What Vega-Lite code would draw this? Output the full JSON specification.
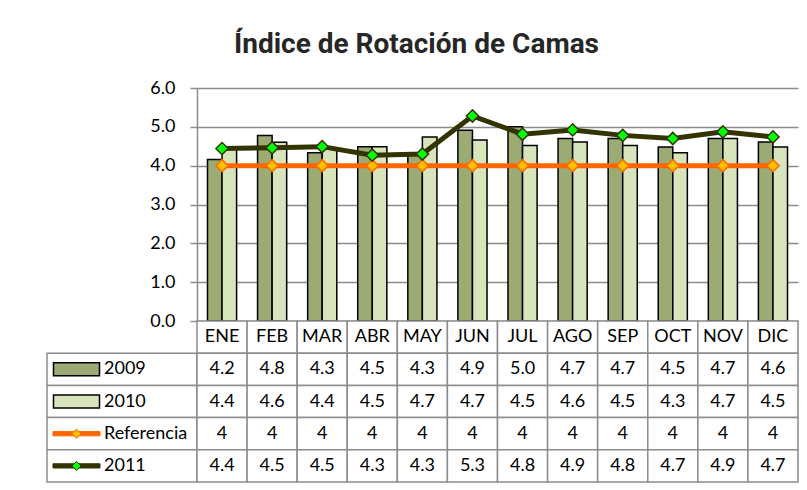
{
  "$schema": "https://vega.github.io/schema/vega-lite/v6.json",
  "background": "white",
  "padding": {"left": 46, "top": 31, "right": 10, "bottom": 9},
  "title": {"text": "Índice de Rotación de Camas", "font": "Roboto", "fontSize": 28, "fontWeight": "bold", "color": "#262626", "anchor": "middle", "dx": -6, "offset": 20},
  "datasets": {
    "valores": [
      {"mes": "ENE", "serie": "2009", "valor": 4.16},
      {"mes": "FEB", "serie": "2009", "valor": 4.78},
      {"mes": "MAR", "serie": "2009", "valor": 4.33},
      {"mes": "ABR", "serie": "2009", "valor": 4.49},
      {"mes": "MAY", "serie": "2009", "valor": 4.3},
      {"mes": "JUN", "serie": "2009", "valor": 4.91},
      {"mes": "JUL", "serie": "2009", "valor": 5.0},
      {"mes": "AGO", "serie": "2009", "valor": 4.7},
      {"mes": "SEP", "serie": "2009", "valor": 4.7},
      {"mes": "OCT", "serie": "2009", "valor": 4.48},
      {"mes": "NOV", "serie": "2009", "valor": 4.7},
      {"mes": "DIC", "serie": "2009", "valor": 4.61},
      {"mes": "ENE", "serie": "2010", "valor": 4.42},
      {"mes": "FEB", "serie": "2010", "valor": 4.6},
      {"mes": "MAR", "serie": "2010", "valor": 4.42},
      {"mes": "ABR", "serie": "2010", "valor": 4.49},
      {"mes": "MAY", "serie": "2010", "valor": 4.74},
      {"mes": "JUN", "serie": "2010", "valor": 4.66},
      {"mes": "JUL", "serie": "2010", "valor": 4.52},
      {"mes": "AGO", "serie": "2010", "valor": 4.61},
      {"mes": "SEP", "serie": "2010", "valor": 4.52},
      {"mes": "OCT", "serie": "2010", "valor": 4.33},
      {"mes": "NOV", "serie": "2010", "valor": 4.7},
      {"mes": "DIC", "serie": "2010", "valor": 4.48},
      {"mes": "ENE", "serie": "Referencia", "valor": 4},
      {"mes": "FEB", "serie": "Referencia", "valor": 4},
      {"mes": "MAR", "serie": "Referencia", "valor": 4},
      {"mes": "ABR", "serie": "Referencia", "valor": 4},
      {"mes": "MAY", "serie": "Referencia", "valor": 4},
      {"mes": "JUN", "serie": "Referencia", "valor": 4},
      {"mes": "JUL", "serie": "Referencia", "valor": 4},
      {"mes": "AGO", "serie": "Referencia", "valor": 4},
      {"mes": "SEP", "serie": "Referencia", "valor": 4},
      {"mes": "OCT", "serie": "Referencia", "valor": 4},
      {"mes": "NOV", "serie": "Referencia", "valor": 4},
      {"mes": "DIC", "serie": "Referencia", "valor": 4},
      {"mes": "ENE", "serie": "2011", "valor": 4.44},
      {"mes": "FEB", "serie": "2011", "valor": 4.46},
      {"mes": "MAR", "serie": "2011", "valor": 4.49},
      {"mes": "ABR", "serie": "2011", "valor": 4.27},
      {"mes": "MAY", "serie": "2011", "valor": 4.3},
      {"mes": "JUN", "serie": "2011", "valor": 5.28},
      {"mes": "JUL", "serie": "2011", "valor": 4.81},
      {"mes": "AGO", "serie": "2011", "valor": 4.92},
      {"mes": "SEP", "serie": "2011", "valor": 4.78},
      {"mes": "OCT", "serie": "2011", "valor": 4.7},
      {"mes": "NOV", "serie": "2011", "valor": 4.87},
      {"mes": "DIC", "serie": "2011", "valor": 4.74}
    ]
  },
  "columns": 2,
  "spacing": 0,
  "bounds": "flush",
  "concat": [
    {
      "width": 150,
      "height": 233,
      "data": {"values": [{}]},
      "mark": {"type": "text", "text": ""},
      "encoding": {}
    },
    {
      "width": 601,
      "height": 233,
      "data": {"name": "valores"},
      "layer": [
        {
          "transform": [{"filter": "datum.serie == '2009' || datum.serie == '2010'"}],
          "mark": {"type": "bar", "stroke": "#000000", "strokeWidth": 1.5},
          "encoding": {
            "x": {"field": "mes", "type": "nominal", "scale": {"domain": ["ENE","FEB","MAR","ABR","MAY","JUN","JUL","AGO","SEP","OCT","NOV","DIC"], "paddingInner": 0, "paddingOuter": 0}, "axis": null},
            "xOffset": {"field": "serie", "type": "nominal", "scale": {"domain": ["2009","2010"], "paddingInner": 0, "paddingOuter": 0.72}},
            "y": {"field": "valor", "type": "quantitative", "scale": {"domain": [0, 6], "nice": false},
              "axis": {"values": [0,1,2,3,4,5,6], "tickCount": 7, "format": ".1f", "title": null, "grid": true, "gridColor": "#8c8c8c", "gridWidth": 1.5, "domainColor": "#8c8c8c", "domainWidth": 1.5, "tickColor": "#8c8c8c", "tickWidth": 1.5, "tickSize": 7, "labelPadding": 15, "labelOverlap": false, "labelFont": "Lato", "labelFontSize": 18, "labelColor": "#000000"}},
            "fill": {"field": "serie", "type": "nominal", "scale": {"domain": ["2009","2010"], "range": ["#9BAB73","#D8E4BC"]}, "legend": null}
          }
        },
        {
          "transform": [{"filter": "datum.serie == 'Referencia'"}],
          "mark": {"type": "line", "color": "#FF6600", "strokeWidth": 5},
          "encoding": {
            "x": {"field": "mes", "type": "nominal"},
            "y": {"field": "valor", "type": "quantitative"}
          }
        },
        {
          "transform": [{"filter": "datum.serie == 'Referencia'"}],
          "mark": {"type": "point", "shape": "diamond", "size": 150, "filled": true, "fill": "#FFC000", "stroke": "#FF6600", "strokeWidth": 1.5, "opacity": 1},
          "encoding": {
            "x": {"field": "mes", "type": "nominal"},
            "y": {"field": "valor", "type": "quantitative"}
          }
        },
        {
          "transform": [{"filter": "datum.serie == '2011'"}],
          "mark": {"type": "line", "color": "#333300", "strokeWidth": 5},
          "encoding": {
            "x": {"field": "mes", "type": "nominal"},
            "y": {"field": "valor", "type": "quantitative"}
          }
        },
        {
          "transform": [{"filter": "datum.serie == '2011'"}],
          "mark": {"type": "point", "shape": "diamond", "size": 150, "filled": true, "fill": "#00FF00", "stroke": "#333300", "strokeWidth": 1.5, "opacity": 1},
          "encoding": {
            "x": {"field": "mes", "type": "nominal"},
            "y": {"field": "valor", "type": "quantitative"}
          }
        }
      ]
    },
    {
      "width": 150,
      "height": 161,
      "data": {"name": "valores"},
      "transform": [{"filter": "datum.mes == 'ENE'"}],
      "layer": [
        {
          "mark": {"type": "rect", "fill": "white", "stroke": "#8c8c8c", "strokeWidth": 1.5},
          "encoding": {
            "y": {"field": "serie", "type": "nominal", "scale": {"domain": ["hdr","2009","2010","Referencia","2011"], "paddingInner": 0, "paddingOuter": 0}, "axis": null}
          }
        },
        {
          "transform": [{"filter": "datum.serie == '2009'"}],
          "mark": {"type": "point", "shape": "M-1,-0.283H1V0.283H-1Z", "size": 2116, "filled": true, "fill": "#9BAB73", "stroke": "#000000", "strokeWidth": 1.5, "opacity": 1},
          "encoding": {
            "x": {"datum": "simbolo", "type": "nominal", "scale": {"type": "band", "domain": ["simbolo","etiqueta"], "paddingInner": 0, "paddingOuter": 0.3636, "align": 0.05}, "axis": null},
            "y": {"field": "serie", "type": "nominal"}
          }
        },
        {
          "transform": [{"filter": "datum.serie == '2010'"}],
          "mark": {"type": "point", "shape": "M-1,-0.283H1V0.283H-1Z", "size": 2116, "filled": true, "fill": "#D8E4BC", "stroke": "#000000", "strokeWidth": 1.5, "opacity": 1},
          "encoding": {
            "x": {"datum": "simbolo", "type": "nominal", "scale": {"type": "band", "domain": ["simbolo","etiqueta"], "paddingInner": 0, "paddingOuter": 0.3636, "align": 0.05}},
            "y": {"field": "serie", "type": "nominal"}
          }
        },
        {
          "transform": [{"filter": "datum.serie == 'Referencia'"}],
          "mark": {"type": "point", "shape": "M-1,-0.09H1V0.09H-1Z", "size": 2209, "filled": true, "fill": "#FF6600", "stroke": "#FF6600", "strokeWidth": 1, "strokeJoin": "round", "opacity": 1},
          "encoding": {
            "x": {"datum": "simbolo", "type": "nominal", "scale": {"type": "band", "domain": ["simbolo","etiqueta"], "paddingInner": 0, "paddingOuter": 0.3636, "align": 0.05}},
            "y": {"field": "serie", "type": "nominal"}
          }
        },
        {
          "transform": [{"filter": "datum.serie == 'Referencia'"}],
          "mark": {"type": "point", "shape": "diamond", "size": 85, "filled": true, "fill": "#FFC000", "stroke": "#FF6600", "strokeWidth": 1, "opacity": 1},
          "encoding": {
            "x": {"datum": "simbolo", "type": "nominal", "scale": {"type": "band", "domain": ["simbolo","etiqueta"], "paddingInner": 0, "paddingOuter": 0.3636, "align": 0.05}},
            "y": {"field": "serie", "type": "nominal"}
          }
        },
        {
          "transform": [{"filter": "datum.serie == '2011'"}],
          "mark": {"type": "point", "shape": "M-1,-0.09H1V0.09H-1Z", "size": 2209, "filled": true, "fill": "#333300", "stroke": "#333300", "strokeWidth": 1, "strokeJoin": "round", "opacity": 1},
          "encoding": {
            "x": {"datum": "simbolo", "type": "nominal", "scale": {"type": "band", "domain": ["simbolo","etiqueta"], "paddingInner": 0, "paddingOuter": 0.3636, "align": 0.05}},
            "y": {"field": "serie", "type": "nominal"}
          }
        },
        {
          "transform": [{"filter": "datum.serie == '2011'"}],
          "mark": {"type": "point", "shape": "diamond", "size": 85, "filled": true, "fill": "#00FF00", "stroke": "#333300", "strokeWidth": 1, "opacity": 1},
          "encoding": {
            "x": {"datum": "simbolo", "type": "nominal", "scale": {"type": "band", "domain": ["simbolo","etiqueta"], "paddingInner": 0, "paddingOuter": 0.3636, "align": 0.05}},
            "y": {"field": "serie", "type": "nominal"}
          }
        },
        {
          "mark": {"type": "text", "align": "left", "font": "Lato", "fontSize": 18, "color": "#000000"},
          "encoding": {
            "x": {"datum": "etiqueta", "type": "nominal", "bandPosition": 0, "scale": {"type": "band", "domain": ["simbolo","etiqueta"], "paddingInner": 0, "paddingOuter": 0.3636, "align": 0.05}},
            "y": {"field": "serie", "type": "nominal"},
            "text": {"field": "serie"}
          }
        }
      ]
    },
    {
      "width": 601,
      "height": 161,
      "data": {"name": "valores"},
      "layer": [
        {
          "transform": [{"filter": "datum.serie == '2009'"}],
          "mark": {"type": "rect", "fill": "white", "stroke": "#8c8c8c", "strokeWidth": 1.5},
          "encoding": {
            "x": {"field": "mes", "type": "nominal", "scale": {"domain": ["ENE","FEB","MAR","ABR","MAY","JUN","JUL","AGO","SEP","OCT","NOV","DIC"], "paddingInner": 0, "paddingOuter": 0}, "axis": null},
            "y": {"datum": "hdr", "type": "nominal", "scale": {"domain": ["hdr","2009","2010","Referencia","2011"], "paddingInner": 0, "paddingOuter": 0}, "axis": null}
          }
        },
        {
          "mark": {"type": "rect", "fill": "white", "stroke": "#8c8c8c", "strokeWidth": 1.5},
          "encoding": {
            "x": {"field": "mes", "type": "nominal"},
            "y": {"field": "serie", "type": "nominal"}
          }
        },
        {
          "transform": [{"filter": "datum.serie == '2009'"}],
          "mark": {"type": "text", "font": "Lato", "fontSize": 18, "color": "#000000"},
          "encoding": {
            "x": {"field": "mes", "type": "nominal"},
            "y": {"datum": "hdr", "type": "nominal"},
            "text": {"field": "mes"}
          }
        },
        {
          "transform": [{"filter": "datum.serie != 'Referencia'"}],
          "mark": {"type": "text", "font": "Lato", "fontSize": 18, "color": "#000000"},
          "encoding": {
            "x": {"field": "mes", "type": "nominal"},
            "y": {"field": "serie", "type": "nominal"},
            "text": {"field": "valor", "type": "quantitative", "format": ".1f"}
          }
        },
        {
          "transform": [{"filter": "datum.serie == 'Referencia'"}],
          "mark": {"type": "text", "font": "Lato", "fontSize": 18, "color": "#000000"},
          "encoding": {
            "x": {"field": "mes", "type": "nominal"},
            "y": {"field": "serie", "type": "nominal"},
            "text": {"field": "valor", "type": "quantitative", "format": "d"}
          }
        }
      ]
    }
  ],
  "config": {"view": {"stroke": null}}
}
